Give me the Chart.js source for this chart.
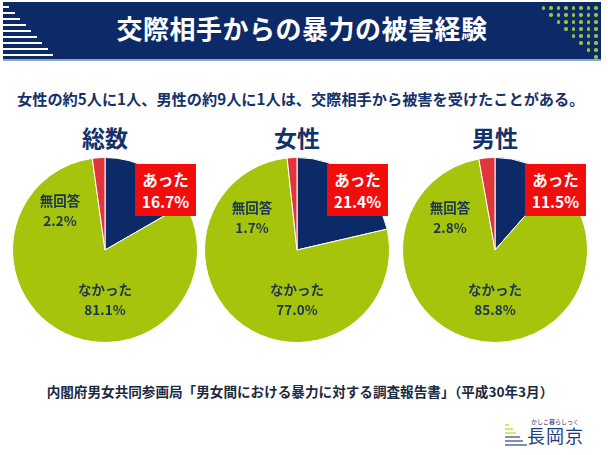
<!DOCTYPE html>
<html lang="ja">
<head>
<meta charset="utf-8">
<script src="https://cdn.jsdelivr.net/npm/chart.js@4"></script>
<style>
  body { margin: 0; width: 608px; height: 455px; background: #fff; position: relative; overflow: hidden;
         font-family: "Noto Sans CJK JP", "Noto Sans", sans-serif; }
  .header { position: absolute; left: 3px; top: 2px; width: 598px; height: 57px; background: #0c2a67;
            border-bottom: 2px solid #8fa6c8; }
  .header h1 { margin: 0; position: absolute; left: 0; right: 0; top: 9px; text-align: center; color: #fff;
               font-size: 26px; font-weight: 700; letter-spacing: 0.5px; line-height: 34px; }
  .stripe { position: absolute; left: 0; height: 2px; background: #fff; }
  .dot { position: absolute; width: 3.5px; height: 3.5px; border-radius: 50%; background: #9cc33a; }
  .lead { position: absolute; left: 17px; top: 87px; color: #13316a; font-size: 15.2px; font-weight: 700; white-space: nowrap; }
  .title { position: absolute; top: 120px; width: 120px; text-align: center; color: #13316a; font-size: 23px; font-weight: 700; }
  .pie { position: absolute; top: 157px; width: 186px; height: 186px; }
  .box { position: absolute; background: #f20c0c; color: #fff; font-size: 15.5px; font-weight: 700;
         text-align: center; line-height: 22px; padding: 4px 0; width: 61px; }
  .lbl { position: absolute; color: #1c3550; font-size: 13.5px; font-weight: 700; text-align: center;
         line-height: 20px; width: 80px; }
  .source { position: absolute; left: 0; width: 600px; top: 381px; text-align: center; color: #1b2a40;
            font-size: 13.6px; font-weight: 700; white-space: nowrap; }
  .logo { position: absolute; left: 505px; top: 416px; width: 80px; height: 32px; }
  .logo .small { position: absolute; left: 26px; top: 1px; font-size: 6px; color: #13316a; white-space: nowrap; }
  .logo .big { position: absolute; left: 22px; top: 8px; font-size: 18px; color: #1d3d7a; line-height: 22px; letter-spacing: 1px; }
</style>
</head>
<body>
<div class="header" id="header"><h1>交際相手からの暴力の被害経験</h1></div>
<div class="lead">女性の約5人に1人、男性の約9人に1人は、交際相手から被害を受けたことがある。</div>
<div id="charts"></div>
<div class="source">内閣府男女共同参画局「男女間における暴力に対する調査報告書」（平成30年3月）</div>
<div class="logo" id="logo">
  <div class="small">かしこ暮らしっく</div>
  <div class="big">長岡京</div>
</div>
<script>
const groups = ["総数", "女性", "男性"];
const categories = ["あった", "なかった", "無回答"];
const seriesAtta = [16.7, 21.4, 11.5];
const seriesNakatta = [81.1, 77.0, 85.8];
const seriesMukaito = [2.2, 1.7, 2.8];

const sliceColors = ["#0c2a67", "#a6c40c", "#e0353a"];
const pieLeft = [12, 204, 402];

// header decoration
const header = document.getElementById("header");
for (let i = 0; i < 9; i += 1) {
  const s = document.createElement("div");
  s.className = "stripe";
  s.style.top = (4 + i * 6) + "px";
  s.style.width = (6 + i * 5.5) + "px";
  header.appendChild(s);
}
for (let row = 0; row < 8; row += 1) {
  for (let c = 0; c < 8 - row; c += 1) {
    const d = document.createElement("div");
    d.className = "dot";
    d.style.top = (4 + row * 7) + "px";
    d.style.left = (591 - c * 7.5) + "px";
    header.appendChild(d);
  }
}

// logo stripes
const logo = document.getElementById("logo");
for (let i = 0; i < 6; i += 1) {
  const s = document.createElement("div");
  s.style.position = "absolute";
  s.style.left = "0px";
  s.style.top = (8 + i * 4) + "px";
  s.style.height = "2px";
  s.style.width = (4 + i * 3.5) + "px";
  s.style.background = i < 3 ? "#e3e36a" : "#7f8fb0";
  logo.appendChild(s);
}

const container = document.getElementById("charts");

groups.forEach(function (name, g) {
  const left = pieLeft[g];
  const cx = left + 93;

  const title = document.createElement("div");
  title.className = "title";
  title.style.left = (cx - 60) + "px";
  title.textContent = name;
  container.appendChild(title);

  const wrap = document.createElement("div");
  wrap.className = "pie";
  wrap.style.left = left + "px";
  const canvas = document.createElement("canvas");
  wrap.appendChild(canvas);
  container.appendChild(wrap);

  const values = [seriesAtta[g], seriesNakatta[g], seriesMukaito[g]];

  new Chart(canvas, {
    type: "pie",
    data: {
      labels: categories,
      datasets: [{
        data: values,
        backgroundColor: sliceColors,
        borderColor: "#ffffff",
        borderWidth: 1
      }]
    },
    options: {
      responsive: true,
      maintainAspectRatio: false,
      animation: false,
      layout: { padding: 0 },
      plugins: { legend: { display: false }, tooltip: { enabled: false } }
    }
  });

  const box = document.createElement("div");
  box.className = "box";
  box.style.left = (cx + 30) + "px";
  box.style.top = "164px";
  box.innerHTML = categories[0] + "<br>" + seriesAtta[g].toFixed(1) + "%";
  container.appendChild(box);

  const noAns = document.createElement("div");
  noAns.className = "lbl";
  noAns.style.left = (cx - 85) + "px";
  noAns.style.top = (g === 0 ? 190 : 197) + "px";
  noAns.innerHTML = categories[2] + "<br>" + seriesMukaito[g].toFixed(1) + "%";
  container.appendChild(noAns);

  const no = document.createElement("div");
  no.className = "lbl";
  no.style.left = (cx - 40) + "px";
  no.style.top = "279px";
  no.innerHTML = categories[1] + "<br>" + seriesNakatta[g].toFixed(1) + "%";
  container.appendChild(no);
});
</script>
</body>
</html>
